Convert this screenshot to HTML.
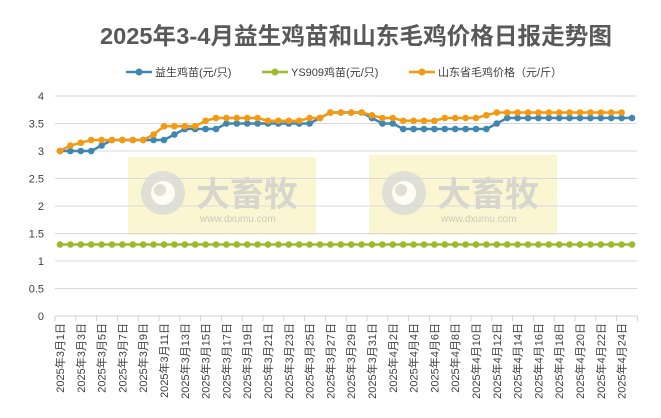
<!DOCTYPE html>
<html><head><meta charset="utf-8"><style>
body{margin:0;background:#fff;width:661px;height:418px;overflow:hidden}
svg{display:block;font-family:"Liberation Sans","Noto Sans CJK SC",sans-serif}
</style></head><body>
<svg id="s" width="661" height="418" viewBox="0 0 661 418" xmlns="http://www.w3.org/2000/svg">
<rect width="661" height="418" fill="#fff"/>
<text x="356" y="44" text-anchor="middle" font-size="23.5" font-weight="bold" fill="#595959" textLength="512" lengthAdjust="spacingAndGlyphs">2025年3-4月益生鸡苗和山东毛鸡价格日报走势图</text>
<g font-size="11" fill="#404040">
<line x1="126" y1="72" x2="152" y2="72" stroke="#3E87B3" stroke-width="2.5"/><circle cx="139" cy="72" r="3.5" fill="#3E87B3"/>
<text x="155" y="76">益生鸡苗(元/只)</text>
<line x1="262" y1="72" x2="288" y2="72" stroke="#9BBB2D" stroke-width="2.5"/><circle cx="275" cy="72" r="3.5" fill="#9BBB2D"/>
<text x="291" y="76">YS909鸡苗(元/只)</text>
<line x1="409" y1="72" x2="435" y2="72" stroke="#F39A12" stroke-width="2.5"/><circle cx="422" cy="72" r="3.5" fill="#F39A12"/>
<text x="438" y="76">山东省毛鸡价格（元/斤）</text>
</g>
<rect x="128" y="157" width="188" height="78" fill="#FBF6D2"/>
<rect x="369" y="155" width="188" height="80" fill="#FBF6D2"/>
<g opacity="0.75">
<circle cx="163" cy="193" r="22" fill="#d8d8d8"/><circle cx="163" cy="193" r="12" fill="#fff"/><circle cx="160" cy="190" r="6" fill="#d8d8d8"/>
<text x="196" y="206" font-size="34" font-weight="bold" fill="#ccc">大畜牧</text>
<text x="200" y="222" font-size="10" fill="#bbb">www.dxumu.com</text>
<circle cx="404" cy="193" r="22" fill="#d8d8d8"/><circle cx="404" cy="193" r="12" fill="#fff"/><circle cx="401" cy="190" r="6" fill="#d8d8d8"/>
<text x="437" y="206" font-size="34" font-weight="bold" fill="#ccc">大畜牧</text>
<text x="441" y="222" font-size="10" fill="#bbb">www.dxumu.com</text>
</g>
<g id="grid"></g><g id="series"></g><g id="labels" font-size="11" fill="#404040"></g>
</svg>
<script>
var ns="http://www.w3.org/2000/svg";
function el(p,t,a,txt){var e=document.createElementNS(ns,t);for(var k in a)e.setAttribute(k,a[k]);if(txt!=null)e.textContent=txt;p.appendChild(e);return e;}
var g=document.getElementById('grid'),s=document.getElementById('series'),L=document.getElementById('labels');
var X0=60,DX=10.4,x1=55,x2=637;
function Y(v){return 316-v*55;}
for(var i=0;i<=8;i++){var v=i*0.5,y=Y(v);
 el(g,'line',{x1:x1,x2:x2,y1:y,y2:y,stroke:i==0?'#d0d0d0':'#d9d9d9','stroke-width':1});
 el(L,'text',{x:44,y:y+4,'text-anchor':'end'},String(v));}
for(var i=0;i<=28;i++){var x=x1+i*20.8;el(g,'line',{x1:x,x2:x,y1:316,y2:321,stroke:'#d0d0d0'});}
var blue=[3,3,3,3,3.1,3.2,3.2,3.2,3.2,3.2,3.2,3.3,3.4,3.4,3.4,3.4,3.5,3.5,3.5,3.5,3.5,3.5,3.5,3.5,3.5,3.6,3.7,3.7,3.7,3.7,3.6,3.5,3.5,3.4,3.4,3.4,3.4,3.4,3.4,3.4,3.4,3.4,3.5,3.6,3.6,3.6,3.6,3.6,3.6,3.6,3.6,3.6,3.6,3.6,3.6,3.6];
var orange=[3,3.1,3.15,3.2,3.2,3.2,3.2,3.2,3.2,3.3,3.45,3.45,3.45,3.45,3.55,3.6,3.6,3.6,3.6,3.6,3.55,3.55,3.55,3.55,3.6,3.6,3.7,3.7,3.7,3.7,3.65,3.6,3.6,3.55,3.55,3.55,3.55,3.6,3.6,3.6,3.6,3.65,3.7,3.7,3.7,3.7,3.7,3.7,3.7,3.7,3.7,3.7,3.7,3.7,3.7];
var yel=[];for(var i=0;i<56;i++)yel.push(1.3);
function ser(d,c){var p=d.map(function(v,i){return (X0+i*DX).toFixed(1)+','+Y(v).toFixed(1)}).join(' ');
 el(s,'polyline',{points:p,fill:'none',stroke:c,'stroke-width':2.5,'stroke-linejoin':'round'});
 d.forEach(function(v,i){el(s,'circle',{cx:X0+i*DX,cy:Y(v),r:3.3,fill:c});});}
ser(yel,'#9BBB2D');ser(blue,'#3E87B3');ser(orange,'#F39A12');
for(var i=0;i<56;i+=2){var x=X0+i*DX;var m=i<31?3:4,d=i<31?i+1:i-30;
 el(L,'text',{x:0,y:0,'text-anchor':'end',transform:'translate('+(x+4)+',323) rotate(-90)'},'2025年'+m+'月'+d+'日');}
</script>
</body></html>
